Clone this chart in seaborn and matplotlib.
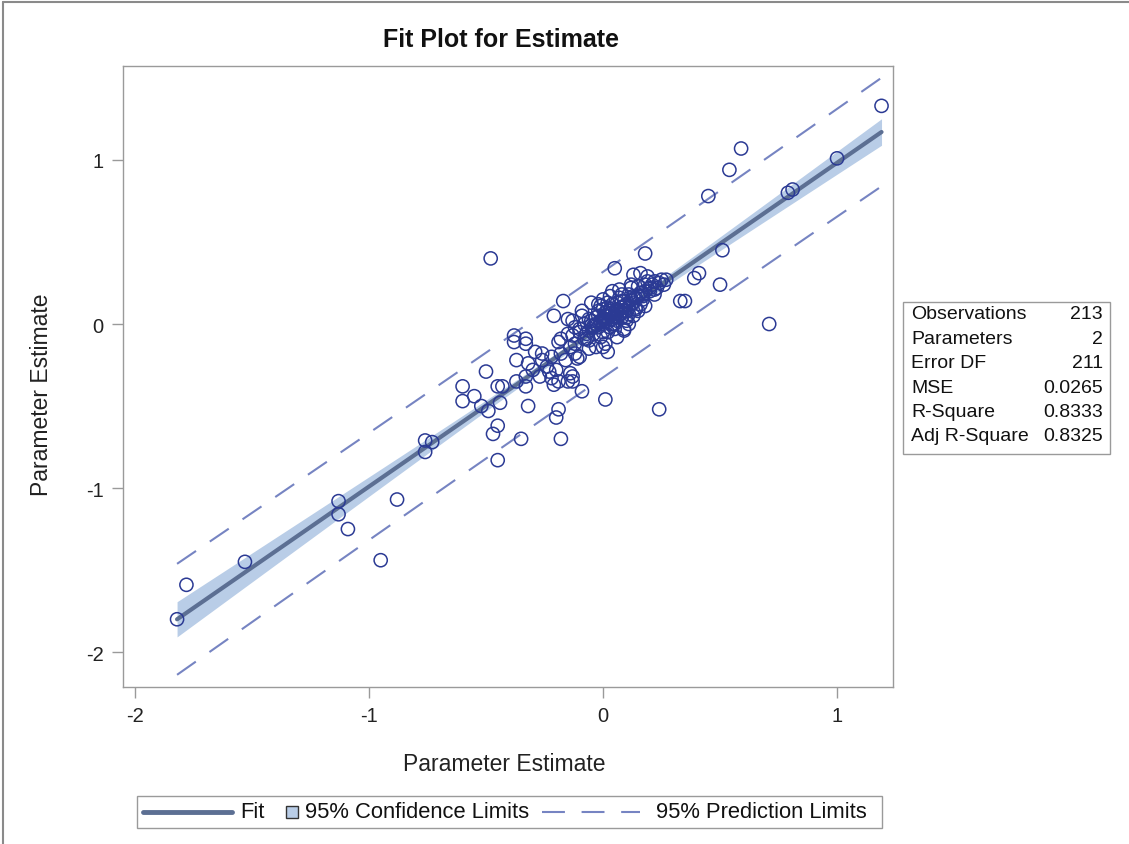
import numpy as np
import pandas as pd
import matplotlib
matplotlib.use("Agg")
import matplotlib.pyplot as plt
from matplotlib.patches import Rectangle
import seaborn as sns

# ---------------------------------------------------------------------------
# Observations: (estimate on x, estimate on y)
# ---------------------------------------------------------------------------
x_sparse = [1.19, 1.00, 0.59, 0.54, 0.45, 0.79, 0.81, 0.51, 0.41, 0.39, 0.35, 0.33,
            0.50, 0.71, -0.48, 0.18, 0.05, 0.24, 0.01, -0.09, -0.32, -0.35, -0.18,
            -0.20, -0.19, -0.45, -0.45, -0.47, -0.49, -0.52, -0.44, -0.50, -0.60,
            -0.60, -0.55, -0.45, -0.43, -0.76, -0.73, -0.76, -0.88, -1.13, -1.13,
            -1.09, -0.95, -1.53, -1.78, -1.82]
y_sparse = [1.33, 1.01, 1.07, 0.94, 0.78, 0.80, 0.82, 0.45, 0.31, 0.28, 0.14, 0.14,
            0.24, 0.00, 0.40, 0.43, 0.34, -0.52, -0.46, -0.41, -0.50, -0.70, -0.70,
            -0.57, -0.52, -0.83, -0.62, -0.67, -0.53, -0.50, -0.48, -0.29, -0.38,
            -0.47, -0.44, -0.38, -0.38, -0.71, -0.72, -0.78, -1.07, -1.08, -1.16,
            -1.25, -1.44, -1.45, -1.59, -1.80]

x_left = [-0.38, -0.38, -0.33, -0.37, -0.32, -0.29, -0.26, -0.22, -0.18, -0.19,
          -0.37, -0.33, -0.33, -0.27, -0.23, -0.21, -0.19, -0.15, -0.17, -0.21,
          -0.15, -0.33, -0.18, -0.15, -0.11, -0.10, -0.13, -0.13, 0.00, 0.02,
          -0.14, -0.12, -0.08, -0.06, -0.24, -0.20, -0.16, -0.12, -0.26, -0.30,
          -0.22, -0.14]
y_left = [-0.07, -0.11, -0.12, -0.22, -0.24, -0.17, -0.18, -0.20, -0.18, -0.11,
          -0.35, -0.32, -0.38, -0.32, -0.29, -0.37, -0.35, -0.35, 0.14, 0.05,
          0.03, -0.09, -0.09, -0.06, -0.21, -0.20, -0.32, -0.35, -0.14, -0.17,
          -0.14, -0.12, -0.09, -0.15, -0.26, -0.28, -0.22, -0.18, -0.22, -0.28,
          -0.33, -0.30]

x_core = [0.13, 0.16, 0.19, 0.12, 0.15, 0.18, 0.22, 0.25, 0.27, 0.04, 0.08, 0.13,
          0.17, 0.20, 0.22, -0.05, -0.01, -0.09, 0.03, 0.09, 0.14, 0.18, -0.13,
          -0.06, 0.00, 0.06, 0.10, -0.10, -0.04, 0.04, 0.09, 0.00, -0.13,
          0.00, 0.02, 0.04, -0.02, 0.01, 0.03, 0.05, 0.06, 0.08, 0.10, 0.12, 0.09,
          0.14, 0.16, 0.18, 0.20, 0.11, 0.07, -0.03, -0.05, -0.06, -0.04, -0.08,
          -0.02, 0.02, 0.04, 0.06, 0.13, 0.15, 0.17, -0.01, 0.02, 0.05, 0.08,
          0.10, -0.07, -0.10, -0.12, -0.09, 0.00, 0.03, 0.07, 0.12, 0.19, 0.24,
          0.26, 0.22, -0.02, 0.01, -0.03, 0.06, 0.09, 0.11, 0.01, -0.01, 0.03,
          0.05, 0.07, 0.14, -0.04, -0.06,
          -0.03, -0.01, 0.01, 0.02, 0.03, 0.04, 0.05, 0.06, 0.07, 0.08,
          0.09, 0.10, 0.11, 0.12, 0.13, 0.15, 0.16, 0.17, 0.21, 0.23,
          -0.07, -0.05, -0.02, 0.00, 0.02, 0.04, 0.06, 0.08, 0.11]
y_core = [0.30, 0.31, 0.29, 0.24, 0.23, 0.24, 0.26, 0.27, 0.27, 0.20, 0.14, 0.17,
          0.17, 0.20, 0.21, 0.13, 0.11, 0.08, 0.08, 0.08, 0.09, 0.11, 0.02,
          0.03, 0.03, 0.04, 0.04, -0.03, -0.02, -0.01, -0.03, -0.05, -0.07,
          0.00, 0.01, 0.03, -0.02, 0.05, -0.02, 0.06, 0.02, 0.10, 0.08, 0.12, 0.14,
          0.16, 0.12, 0.20, 0.22, 0.18, 0.16, 0.04, 0.02, -0.04, -0.06, 0.00,
          0.08, 0.10, 0.12, 0.09, 0.05, 0.08, 0.15, -0.08, -0.05, -0.03, 0.04,
          0.02, -0.09, -0.05, -0.02, 0.05, 0.15, 0.17, 0.21, 0.22, 0.26, 0.25,
          0.24, 0.18, 0.12, -0.12, -0.14, -0.08, -0.04, 0.00, 0.07, 0.01, 0.09,
          0.00, 0.06, 0.10, -0.01, -0.10,
          0.00, 0.02, 0.03, 0.06, 0.05, 0.07, 0.04, 0.08, 0.06, 0.07,
          0.11, 0.12, 0.10, 0.15, 0.13, 0.17, 0.19, 0.18, 0.24, 0.22,
          -0.06, -0.01, 0.05, 0.09, 0.13, 0.00, 0.13, 0.18, 0.06]

x_obs = x_sparse + x_left + x_core
y_obs = y_sparse + y_left + y_core

# Fit summary
fit_intercept = -0.004
fit_slope = 0.987
n_obs = 213
mse = 0.0265
x_mean = -0.09
sxx = 28.0
t_crit = 1.9712

stat_labels = ["Observations", "Parameters", "Error DF", "MSE", "R-Square", "Adj R-Square"]
stat_values = ["213", "2", "211", "0.0265", "0.8333", "0.8325"]

legend_labels = ["Fit", "95% Confidence Limits", "95% Prediction Limits"]

ticks = [-2, -1, 0, 1]

# ---------------------------------------------------------------------------
MARKER = "#2B3A94"
FIT = "#5C6F93"
BAND = "#B9CDE7"
PRED = "#7684C2"
FRAME = "#9A9A9A"

sns.set_theme(style="white")
plt.rcParams["font.family"] = ["Liberation Sans", "DejaVu Sans"]
plt.rcParams["axes.unicode_minus"] = False

W, H = 1129, 845
fig = plt.figure(figsize=(W / 100, H / 100), dpi=100)
ax = fig.add_axes([123 / W, 1 - 688 / H, (893 - 123) / W, (688 - 67) / H])

df = pd.DataFrame({"x": x_obs, "y": y_obs})

# Regression line with confidence and prediction bands
xg = np.linspace(min(x_obs), max(x_obs), 200)
yg = fit_intercept + fit_slope * xg
lev = 1 / n_obs + (xg - x_mean) ** 2 / sxx
ci = t_crit * np.sqrt(mse * lev)
pi = t_crit * np.sqrt(mse * (1 + lev))

ax.fill_between(xg, yg - ci, yg + ci, color=BAND, lw=0, zorder=1)
ax.plot(xg, yg + pi, color=PRED, lw=1.5, dashes=(11, 8), zorder=2)
ax.plot(xg, yg - pi, color=PRED, lw=1.5, dashes=(11, 8), zorder=2)
sns.lineplot(x=xg, y=yg, color=FIT, lw=3, ax=ax, zorder=3)

sns.scatterplot(data=df, x="x", y="y", ax=ax, marker="o", s=90,
                facecolor="none", edgecolor=MARKER, linewidth=1.1, zorder=4)

ax.set_xlim(-2.051, 1.239)
ax.set_ylim(-2.213, 1.573)
ax.set_xticks(ticks)
ax.set_yticks(ticks)
ax.set_xticklabels([str(t) for t in ticks])
ax.set_yticklabels([str(t) for t in ticks])
ax.tick_params(axis="both", direction="out", length=8, width=1, color=FRAME,
               labelsize=14.5, labelcolor="#222222", pad=6, bottom=True, left=True)
ax.set_xlabel("")
ax.set_ylabel("")
for sp in ax.spines.values():
    sp.set_color(FRAME)
    sp.set_linewidth(1)

# Overlay in pixel coordinates for titles, stats box and legend
ov = fig.add_axes([0, 0, 1, 1], zorder=-1)
ov.set_xlim(0, W)
ov.set_ylim(H, 0)
ov.axis("off")
ov.patch.set_alpha(0)

ov.plot([3, W], [3, 3], color="#8A8A8A", lw=1.5)
ov.plot([3, 3], [3, H], color="#8A8A8A", lw=1.5)

ov.text(501, 40, "Fit Plot for Estimate", ha="center", va="center",
        fontsize=18, fontweight="bold", color="#111111")
ov.text(504, 765, "Parameter Estimate", ha="center", va="center",
        fontsize=16.5, color="#222222")
ov.text(42, 395, "Parameter Estimate", ha="center", va="center",
        rotation=90, fontsize=16.5, color="#222222")

# Fit statistics table
ov.add_patch(Rectangle((903, 303), 207, 152, fill=False, edgecolor=FRAME, lw=1))
for i, (lab, val) in enumerate(zip(stat_labels, stat_values)):
    yy = 315 + i * 24.4
    ov.text(911, yy, lab, ha="left", va="center", fontsize=14, color="#111111")
    ov.text(1103, yy, val, ha="right", va="center", fontsize=14, color="#111111")

# Legend
ov.add_patch(Rectangle((137, 797), 745, 32, fill=False, edgecolor=FRAME, lw=1))
ly = 813
ov.plot([143, 232], [ly, ly], color=FIT, lw=3.5)
ov.text(240, ly, legend_labels[0], ha="left", va="center", fontsize=15.8, color="#111111")
ov.add_patch(Rectangle((286, ly - 6), 12, 12, facecolor=BAND, edgecolor="#333333", lw=1))
ov.text(305, ly, legend_labels[1], ha="left", va="center", fontsize=15.8, color="#111111")
ov.plot([542, 640], [ly, ly], color=PRED, lw=1.5, dashes=(11, 8))
ov.text(656, ly, legend_labels[2], ha="left", va="center", fontsize=15.8, color="#111111")

fig.savefig("out.png", dpi=100)
